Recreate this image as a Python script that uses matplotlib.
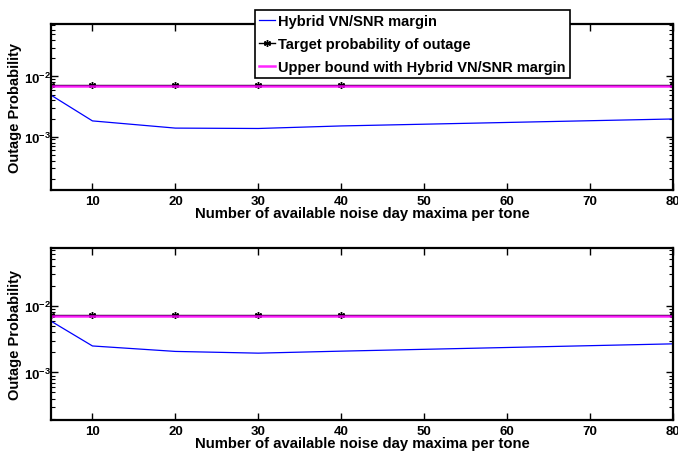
import matplotlib
matplotlib.use('Agg')
import matplotlib.pyplot as plt
from matplotlib.ticker import FixedLocator, NullFormatter

# =============================================================================
# Outage probability vs number of available noise day maxima per tone
# =============================================================================
N_MAXIMA = [5, 10, 20, 30, 40, 80]

HYBRID_TOP = [4.9e-3, 1.83e-3, 1.39e-3, 1.37e-3, 1.51e-3, 1.97e-3]
TARGET_TOP = [7.2e-3] * 6
UPPER_TOP = [6.9e-3] * 6

HYBRID_BOT = [5.9e-3, 2.5e-3, 2.07e-3, 1.95e-3, 2.09e-3, 2.69e-3]
TARGET_BOT = [7.2e-3] * 6
UPPER_BOT = [7.15e-3] * 6

YLIM_TOP = (1.32e-4, 7.4e-2)
YLIM_BOT = (1.95e-4, 7.3e-2)

LABEL = [
    'Hybrid VN/SNR margin',
    'Target probability of outage',
    'Upper bound with Hybrid VN/SNR margin',
]

plt.rcParams['font.family'] = ['Liberation Sans', 'DejaVu Sans']
plt.rcParams['font.weight'] = 'bold'
plt.rcParams['mathtext.fontset'] = 'custom'
plt.rcParams['mathtext.rm'] = 'Liberation Sans:bold'
plt.rcParams['mathtext.it'] = 'Liberation Sans:bold'
plt.rcParams['mathtext.bf'] = 'Liberation Sans:bold'

MINOR = [m * 10.0 ** e for e in (-4, -3, -2) for m in range(2, 10)]

fig = plt.figure(figsize=(6.78, 4.52), dpi=100)
ax_top = fig.add_axes([0.0752, 0.578, 0.9174, 0.3666])
ax_bot = fig.add_axes([0.0752, 0.0692, 0.9174, 0.379])

handles = None
for ax, hyb, tgt, upp, ylim in [
    (ax_top, HYBRID_TOP, TARGET_TOP, UPPER_TOP, YLIM_TOP),
    (ax_bot, HYBRID_BOT, TARGET_BOT, UPPER_BOT, YLIM_BOT),
]:
    h1, = ax.plot(N_MAXIMA, hyb, color='#0000ff', linewidth=0.9)
    h2, = ax.plot(N_MAXIMA, tgt, color='black', marker=(6, 2, 0),
                  markersize=5, markeredgewidth=1.0, linewidth=1.0)
    h3, = ax.plot(N_MAXIMA, upp, color='#ff00ff', linewidth=1.8, alpha=0.85)
    if handles is None:
        handles = [h1, h2, h3]
    ax.set_yscale('log')
    ax.set_xlim(5, 80)
    ax.set_ylim(*ylim)
    ax.set_xticks([10, 20, 30, 40, 50, 60, 70, 80])
    ax.set_yticks([1e-3, 1e-2])
    ax.yaxis.set_minor_locator(FixedLocator(MINOR))
    ax.yaxis.set_minor_formatter(NullFormatter())
    ax.tick_params(which='both', direction='in', top=True, right=True,
                   labelsize=9.5)
    ax.tick_params(axis='x', pad=4)
    ax.tick_params(axis='y', pad=0)
    ax.tick_params(which='major', length=5, width=1)
    ax.tick_params(which='minor', length=3, width=0.8)
    for spine in ax.spines.values():
        spine.set_linewidth(1.6)
    ax.set_xlabel('Number of available noise day maxima per tone',
                  fontsize=10.7, fontweight='bold', labelpad=-1)
    ax.set_ylabel('Outage Probability', fontsize=10.5, fontweight='bold')
    ax.yaxis.set_label_coords(-0.046, 0.5)

leg = fig.legend(handles, LABEL, loc='upper left',
                 bbox_to_anchor=(255 / 678, 1 - 11 / 452),
                 fontsize=10.5, frameon=True, fancybox=False,
                 handlelength=1.1, handletextpad=0.2, borderpad=0.3,
                 labelspacing=0.6, borderaxespad=0)
leg.get_frame().set_edgecolor('black')
leg.get_frame().set_linewidth(1.2)
leg.get_frame().set_alpha(1)
for txt in leg.get_texts():
    txt.set_fontweight('bold')

fig.savefig('out.png', dpi=100)
